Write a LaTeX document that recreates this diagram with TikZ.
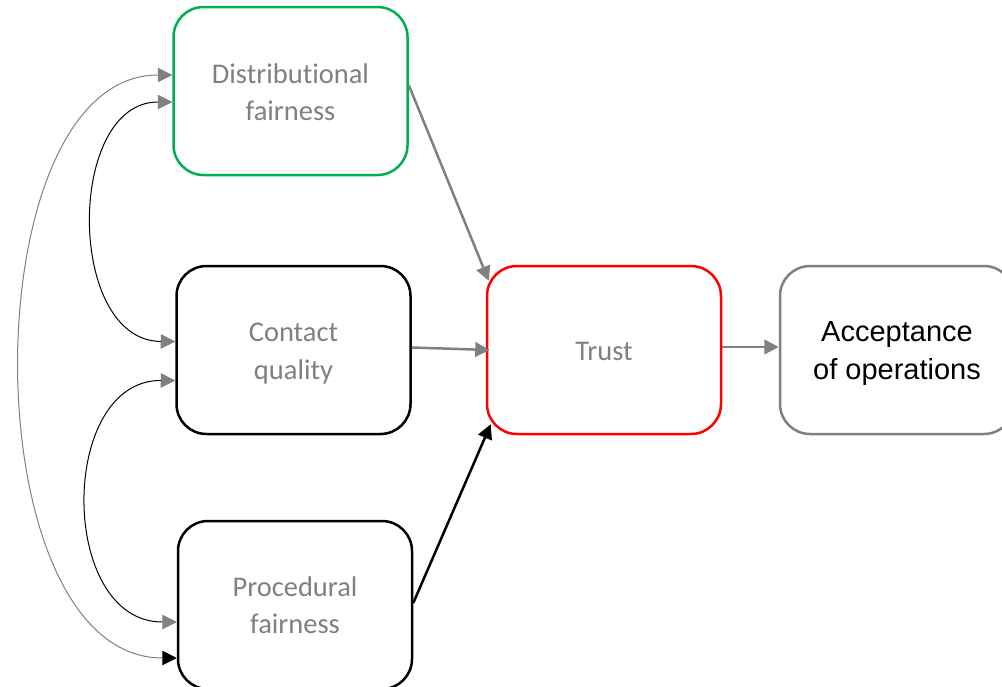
\documentclass[tikz,border=0pt]{standalone}
\usepackage{fontspec}
\setmainfont{Carlito}[Ligatures={NoCommon}]
\newfontfamily\arialfont{Liberation Sans}
\usetikzlibrary{arrows.meta,calc}
\definecolor{boxgreen}{RGB}{0,176,80}
\definecolor{boxred}{RGB}{255,0,0}
\definecolor{linegray}{RGB}{128,128,128}
\tikzset{
  box/.style={draw, rounded corners=30pt, line width=2.5pt, minimum width=234pt, minimum height=168pt, inner sep=0pt},
  boxtext/.style={align=center, text=linegray, font=\fontsize{28.5}{37.5}\selectfont, inner sep=0pt},
  acctext/.style={align=center, text=black, font=\arialfont\fontsize{29}{38}\selectfont, inner sep=0pt},
  headg/.tip={Triangle[length=14.5pt,width=14.5pt,color=linegray]},
  headk/.tip={Triangle[length=14.5pt,width=14.5pt,color=black]},
  thickarrow/.style={line width=2.5pt, -headg, draw=linegray},
  thinlink/.style={line width=1pt}
}
\begin{document}
\begin{tikzpicture}[x=1pt,y=-1pt]
\useasboundingbox (0,0) rectangle (1002,686);
\node[box, draw=boxgreen] (dist) at (290.5,91) {};
\node[box, draw=black] (contact) at (293.5,350) {};
\node[box, draw=black] (proc) at (295,605) {};
\node[box, draw=boxred] (trust) at (604,350) {};
\node[box, draw=linegray] (acc) at (897,350) {};

\node[boxtext] (dist-t) at ([yshift=-1pt]dist.center) {Distributional\\fairness};
\node[boxtext] (contact-t) at ([yshift=-3.5pt]contact.center) {Contact\\quality};
\node[boxtext] (proc-t) at (proc.center) {Procedural\\fairness};
\node[boxtext] (trust-t) at ([yshift=-1pt]trust.center) {Trust};
\node[acctext] (acc-t) at ([yshift=-4pt]acc.center) {Acceptance\\of operations};

% straight arrows
\draw[thickarrow] ([yshift=6pt]dist.east) -- ([xshift=3pt,yshift=-16pt]trust.north west);
\draw[thickarrow] ([yshift=2.5pt]contact.east) -- ([xshift=4pt]trust.west);
\draw[line width=2.5pt, -headk] ([yshift=2pt]proc.east) -- ([xshift=5pt,yshift=11pt]trust.south west);
\draw[thickarrow] ([yshift=3pt]trust.east) -- ([yshift=3pt]acc.west);

% curved correlations
\draw[thinlink, draw=linegray, headg-headk] ([yshift=16pt]dist.west) .. controls (-30,75) and (-30,658) .. ([yshift=-53pt]proc.west);
\draw[thinlink, draw=black, headg-headg] ([yshift=-11pt]dist.west) .. controls (66,102) and (66,341) .. ([yshift=8.5pt]contact.west);
\draw[thinlink, draw=black, headg-headg] ([yshift=-30.5pt]contact.west) .. controls (58,380) and (58,622) .. ([yshift=-17pt]proc.west);
\end{tikzpicture}
\end{document}
